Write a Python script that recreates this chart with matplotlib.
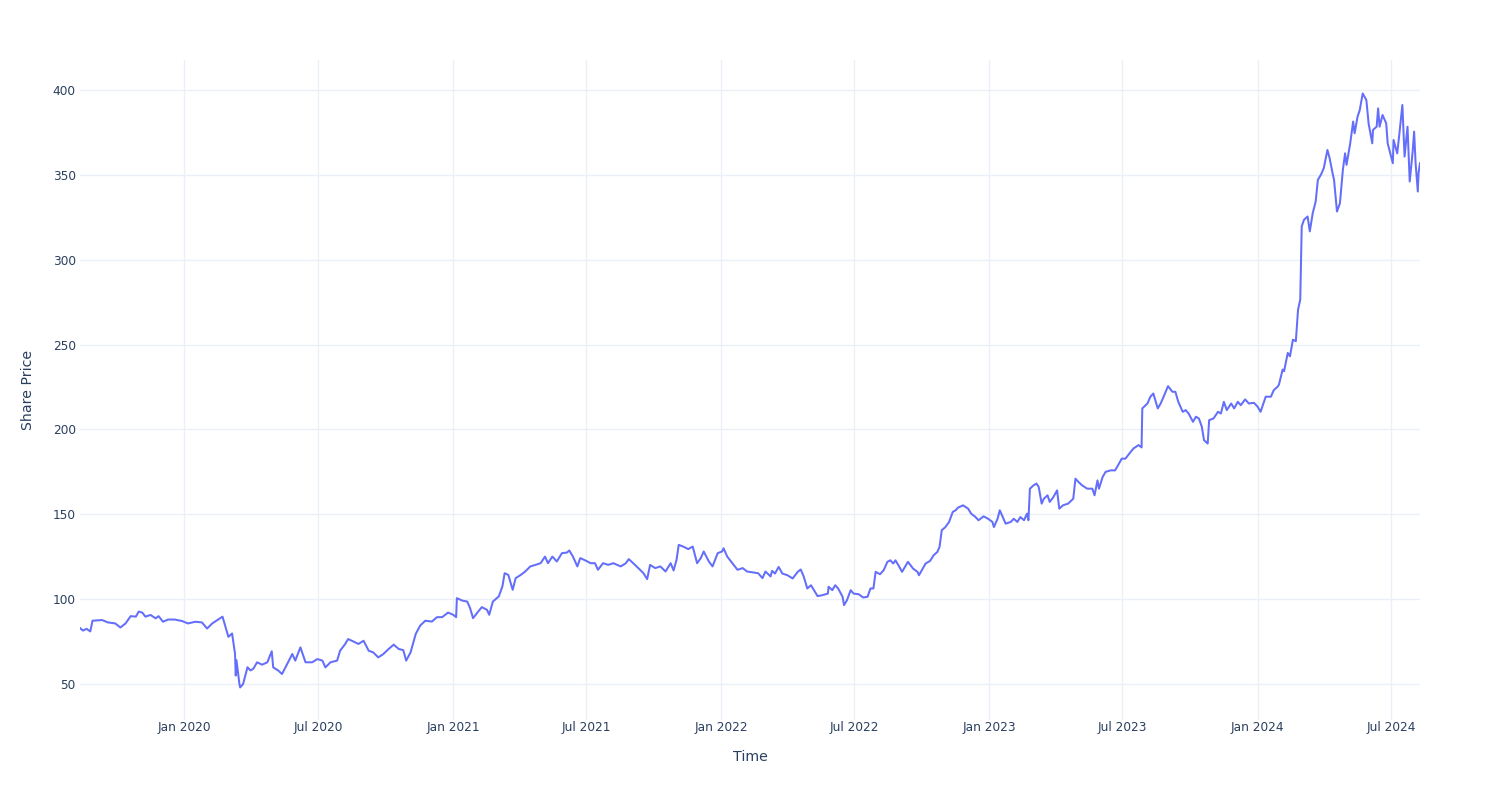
import matplotlib
matplotlib.use("Agg")
import matplotlib.pyplot as plt
import matplotlib.dates as mdates
import pandas as pd

dates = [
    "2019-08-12", "2019-08-16", "2019-08-21", "2019-08-26", "2019-08-29", "2019-09-11", "2019-09-19", "2019-09-29",
    "2019-10-06", "2019-10-13", "2019-10-20", "2019-10-27", "2019-10-31", "2019-11-05", "2019-11-09", "2019-11-16",
    "2019-11-23", "2019-11-27", "2019-12-03", "2019-12-10", "2019-12-19", "2019-12-29", "2020-01-06", "2020-01-16",
    "2020-01-25", "2020-02-01", "2020-02-08", "2020-02-15", "2020-02-22", "2020-02-26", "2020-03-01", "2020-03-06",
    "2020-03-10", "2020-03-11", "2020-03-12", "2020-03-16", "2020-03-17", "2020-03-21", "2020-03-27", "2020-03-31",
    "2020-04-04", "2020-04-09", "2020-04-16", "2020-04-23", "2020-04-29", "2020-05-01", "2020-05-08", "2020-05-13",
    "2020-05-20", "2020-05-27", "2020-05-31", "2020-06-07", "2020-06-14", "2020-06-23", "2020-06-30", "2020-07-07",
    "2020-07-11", "2020-07-18", "2020-07-27", "2020-07-31", "2020-08-07", "2020-08-11", "2020-08-18", "2020-08-25",
    "2020-09-01", "2020-09-08", "2020-09-14", "2020-09-21", "2020-09-28", "2020-10-05", "2020-10-12", "2020-10-19",
    "2020-10-25", "2020-10-29", "2020-11-04", "2020-11-11", "2020-11-17", "2020-11-24", "2020-12-03", "2020-12-10",
    "2020-12-17", "2020-12-25", "2021-01-01", "2021-01-05", "2021-01-06", "2021-01-13", "2021-01-20", "2021-01-24",
    "2021-01-28", "2021-02-04", "2021-02-09", "2021-02-16", "2021-02-19", "2021-02-24", "2021-03-04", "2021-03-09",
    "2021-03-12", "2021-03-17", "2021-03-23", "2021-03-27", "2021-04-03", "2021-04-09", "2021-04-16", "2021-04-23",
    "2021-04-30", "2021-05-06", "2021-05-10", "2021-05-16", "2021-05-22", "2021-05-29", "2021-06-05", "2021-06-08",
    "2021-06-13", "2021-06-19", "2021-06-23", "2021-06-30", "2021-07-07", "2021-07-13", "2021-07-17", "2021-07-24",
    "2021-07-31", "2021-08-07", "2021-08-17", "2021-08-24", "2021-08-28", "2021-09-03", "2021-09-10", "2021-09-17",
    "2021-09-22", "2021-09-26", "2021-10-03", "2021-10-10", "2021-10-17", "2021-10-24", "2021-10-28", "2021-11-01",
    "2021-11-04", "2021-11-10", "2021-11-17", "2021-11-23", "2021-11-29", "2021-12-04", "2021-12-08", "2021-12-15",
    "2021-12-20", "2021-12-27", "2022-01-02", "2022-01-04", "2022-01-09", "2022-01-16", "2022-01-23", "2022-01-30",
    "2022-02-05", "2022-02-14", "2022-02-20", "2022-02-26", "2022-03-02", "2022-03-09", "2022-03-11", "2022-03-15",
    "2022-03-20", "2022-03-25", "2022-04-01", "2022-04-08", "2022-04-15", "2022-04-19", "2022-04-23", "2022-04-28",
    "2022-05-03", "2022-05-07", "2022-05-12", "2022-05-19", "2022-05-26", "2022-05-27", "2022-06-01", "2022-06-05",
    "2022-06-09", "2022-06-15", "2022-06-17", "2022-06-21", "2022-06-26", "2022-06-30", "2022-07-07", "2022-07-13",
    "2022-07-19", "2022-07-23", "2022-07-27", "2022-07-30", "2022-08-05", "2022-08-10", "2022-08-15", "2022-08-19",
    "2022-08-23", "2022-08-26", "2022-08-30", "2022-09-04", "2022-09-08", "2022-09-12", "2022-09-19", "2022-09-25",
    "2022-09-27", "2022-10-02", "2022-10-06", "2022-10-12", "2022-10-17", "2022-10-22", "2022-10-25", "2022-10-28",
    "2022-11-02", "2022-11-07", "2022-11-12", "2022-11-16", "2022-11-19", "2022-11-26", "2022-12-03", "2022-12-07",
    "2022-12-13", "2022-12-17", "2022-12-24", "2022-12-30", "2023-01-05", "2023-01-07", "2023-01-12", "2023-01-15",
    "2023-01-19", "2023-01-23", "2023-01-30", "2023-02-03", "2023-02-08", "2023-02-12", "2023-02-17", "2023-02-21",
    "2023-02-23", "2023-02-25", "2023-03-02", "2023-03-06", "2023-03-09", "2023-03-13", "2023-03-16", "2023-03-21",
    "2023-03-24", "2023-03-29", "2023-04-03", "2023-04-06", "2023-04-11", "2023-04-18", "2023-04-25", "2023-04-28",
    "2023-05-02", "2023-05-07", "2023-05-14", "2023-05-21", "2023-05-24", "2023-05-28", "2023-05-30", "2023-06-04",
    "2023-06-08", "2023-06-15", "2023-06-21", "2023-06-25", "2023-06-30", "2023-07-05", "2023-07-12", "2023-07-16",
    "2023-07-23", "2023-07-27", "2023-07-28", "2023-08-04", "2023-08-08", "2023-08-12", "2023-08-18", "2023-08-22",
    "2023-08-26", "2023-09-01", "2023-09-07", "2023-09-11", "2023-09-15", "2023-09-21", "2023-09-25", "2023-09-29",
    "2023-10-05", "2023-10-09", "2023-10-13", "2023-10-17", "2023-10-20", "2023-10-25", "2023-10-27", "2023-11-02",
    "2023-11-08", "2023-11-12", "2023-11-16", "2023-11-20", "2023-11-26", "2023-11-30", "2023-12-05", "2023-12-09",
    "2023-12-15", "2023-12-20", "2023-12-27", "2024-01-01", "2024-01-05", "2024-01-12", "2024-01-19", "2024-01-23",
    "2024-01-28", "2024-01-30", "2024-02-04", "2024-02-06", "2024-02-11", "2024-02-14", "2024-02-18", "2024-02-22",
    "2024-02-25", "2024-02-28", "2024-03-01", "2024-03-04", "2024-03-09", "2024-03-12", "2024-03-16", "2024-03-20",
    "2024-03-23", "2024-03-27", "2024-03-31", "2024-04-05", "2024-04-08", "2024-04-12", "2024-04-14", "2024-04-18",
    "2024-04-22", "2024-04-26", "2024-04-29", "2024-05-01", "2024-05-06", "2024-05-10", "2024-05-12", "2024-05-16",
    "2024-05-19", "2024-05-23", "2024-05-28", "2024-05-31", "2024-06-05", "2024-06-06", "2024-06-11", "2024-06-13",
    "2024-06-15", "2024-06-19", "2024-06-24", "2024-06-26", "2024-07-03", "2024-07-04", "2024-07-09", "2024-07-12",
    "2024-07-16", "2024-07-19", "2024-07-23", "2024-07-26", "2024-07-30", "2024-08-01", "2024-08-03", "2024-08-06",
    "2024-08-07", "2024-08-09",
]

prices = [
    83.0, 81.5, 82.5, 81.0, 87.3, 87.7, 86.3, 85.7,
    83.3, 85.7, 90.0, 89.7, 92.7, 92.0, 89.7, 90.7,
    88.7, 90.0, 86.7, 88.0, 88.0, 87.1, 85.7, 86.7,
    86.3, 82.7, 85.7, 87.7, 89.7, 83.7, 77.8, 79.8,
    67.9, 55.0, 64.0, 50.0, 48.0, 50.0, 59.9, 58.0,
    59.0, 62.8, 61.4, 62.8, 69.3, 59.8, 57.9, 55.9,
    61.8, 67.7, 63.8, 71.6, 62.8, 62.8, 64.7, 63.8,
    59.8, 62.8, 63.8, 69.6, 73.6, 76.5, 75.1, 73.6,
    75.5, 69.6, 68.7, 65.7, 67.7, 70.6, 73.2, 70.6,
    70.0, 63.8, 68.7, 79.5, 84.4, 87.3, 86.8, 89.4,
    89.4, 92.1, 90.8, 89.4, 100.6, 99.2, 98.6, 94.7,
    88.8, 92.7, 95.3, 93.7, 90.8, 98.6, 101.6, 107.5,
    115.3, 114.3, 105.5, 112.4, 114.3, 116.3, 119.3, 120.2,
    121.2, 125.1, 121.2, 125.1, 122.2, 127.1, 127.5, 128.7,
    125.1, 119.3, 124.2, 122.8, 121.2, 121.2, 117.3, 121.2,
    120.2, 121.2, 119.3, 121.2, 123.6, 121.2, 118.3, 115.3,
    111.8, 120.2, 118.3, 119.3, 116.3, 121.2, 116.9, 123.2,
    132.0, 131.0, 129.5, 131.0, 121.2, 124.2, 128.1, 122.2,
    119.3, 127.1, 128.1, 130.0, 125.1, 121.2, 117.3, 118.3,
    116.3, 115.7, 115.3, 112.4, 116.3, 113.4, 116.7, 115.1,
    119.0, 115.1, 114.1, 112.2, 116.1, 117.5, 113.5, 106.3,
    108.2, 105.3, 101.8, 102.4, 103.3, 107.3, 105.3, 108.2,
    106.3, 101.4, 96.5, 99.4, 105.3, 103.3, 102.9, 101.0,
    101.4, 106.3, 106.3, 116.1, 114.7, 117.1, 122.0, 122.9,
    121.0, 122.9, 120.0, 116.1, 119.0, 122.0, 118.0, 116.1,
    114.1, 118.0, 121.0, 122.5, 125.9, 127.8, 130.8, 140.6,
    142.5, 145.5, 151.4, 152.4, 153.9, 155.3, 153.3, 150.4,
    148.4, 146.5, 148.8, 147.4, 145.5, 142.5, 147.4, 152.4,
    148.4, 144.5, 145.5, 147.4, 145.5, 148.4, 146.5, 150.4,
    146.5, 165.1, 167.1, 168.1, 166.1, 156.3, 159.2, 161.2,
    157.3, 160.2, 164.1, 153.3, 155.3, 156.3, 159.2, 171.0,
    169.1, 167.1, 165.1, 165.1, 161.2, 170.0, 165.1, 172.0,
    175.0, 175.9, 175.9, 178.9, 182.8, 182.8, 186.7, 188.8,
    190.8, 189.4, 212.4, 215.3, 219.3, 221.2, 212.4, 215.3,
    219.3, 225.5, 222.2, 222.2, 216.3, 210.4, 211.4, 209.4,
    204.5, 207.5, 206.5, 201.6, 193.7, 191.7, 205.5, 206.5,
    210.4, 209.4, 216.3, 211.4, 215.3, 212.4, 216.3, 214.3,
    217.7, 215.3, 215.7, 213.4, 210.4, 219.3, 219.3, 223.2,
    225.1, 226.4, 235.3, 234.3, 245.1, 243.1, 252.9, 252.0,
    270.6, 276.5, 319.6, 323.5, 325.5, 316.7, 327.5, 334.3,
    347.1, 350.0, 353.9, 364.7, 359.8, 351.0, 347.1, 328.4,
    333.3, 352.9, 362.7, 355.9, 368.6, 381.4, 374.5, 384.3,
    388.2, 398.0, 394.1, 380.4, 368.6, 376.5, 378.4, 389.2,
    378.4, 385.3, 380.4, 368.6, 356.9, 370.6, 362.7, 374.5,
    391.2, 360.8, 378.4, 346.1, 363.7, 375.5, 356.9, 340.2,
    351.0, 356.9,
]

y_ticks = [50, 100, 150, 200, 250, 300, 350, 400]
x_tick_dates = ["2020-01-01", "2020-07-01", "2021-01-01", "2021-07-01", "2022-01-01",
                "2022-07-01", "2023-01-01", "2023-07-01", "2024-01-01", "2024-07-01"]
x_label = "Time"
y_label = "Share Price"

plt.rcParams['font.family'] = ['DejaVu Sans']
text_color = "#2a3f5f"
grid_color = "#EBF0F8"

fig = plt.figure(figsize=(15, 8), dpi=100)
ax = fig.add_axes([80 / 1500, 80 / 800, 1340 / 1500, 660 / 800])

x = pd.to_datetime(dates)
ax.plot(x, prices, color="#636efa", linewidth=1.45, solid_joinstyle="round")

ax.set_xlim(x[0], x[-1])
ax.set_ylim(28.8, 417.7)

ax.set_yticks(y_ticks)
ax.set_xticks(pd.to_datetime(x_tick_dates))
ax.xaxis.set_major_formatter(mdates.DateFormatter("%b %Y"))

ax.grid(True, color=grid_color, linewidth=1)
ax.set_axisbelow(True)
for s in ax.spines.values():
    s.set_visible(False)
ax.tick_params(axis="both", length=0, labelsize=8.7, colors=text_color)
ax.tick_params(axis="y", pad=3)
ax.tick_params(axis="x", pad=1)

ax.set_xlabel(x_label, fontsize=10.2, color=text_color, labelpad=11)
ax.set_ylabel(y_label, fontsize=10.2, color=text_color, labelpad=13)

fig.savefig("out.png", dpi=100, facecolor="white")
